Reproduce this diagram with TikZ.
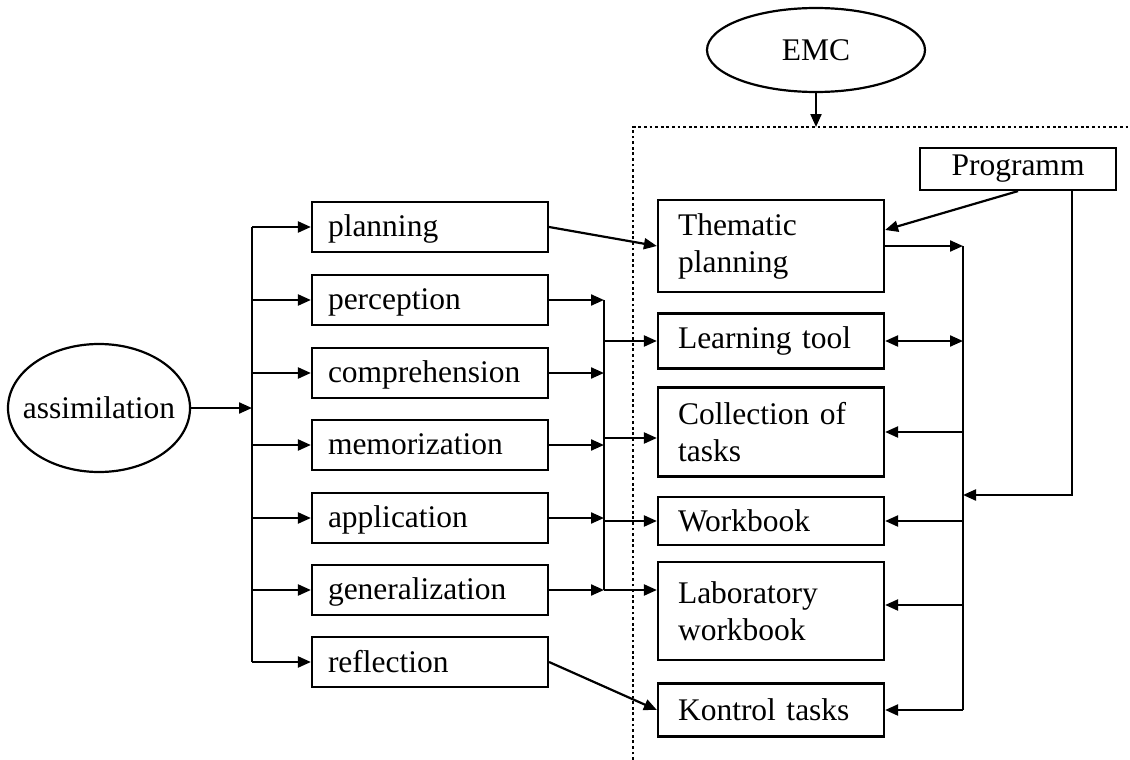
\documentclass[tikz,border=0pt]{standalone}
\usepackage{fontspec}
\setmainfont{Liberation Serif}
\usetikzlibrary{arrows.meta,positioning,calc,shapes.geometric}
\tikzset{box/.style={draw,line width=1.1pt,align=left,text width=102pt,minimum height=25pt,inner xsep=8pt,inner ysep=2pt,text depth=1pt},rbox/.style={draw,line width=1.1pt,align=left,text width=93pt,inner xsep=10pt,inner ysep=2pt},oval/.style={draw,ellipse,line width=1.1pt,inner xsep=-10pt,inner ysep=0pt},arrow/.style={-{Triangle[length=6.5pt,width=5.5pt]},line width=1.1pt},dbl/.style={{Triangle[length=6.5pt,width=5.5pt]}-{Triangle[length=6.5pt,width=5.5pt]},line width=1.1pt},line/.style={line width=1.1pt},dots/.style={line width=1.4pt,dash pattern=on 1.4pt off 1.4pt}}

\begin{document}
\begin{tikzpicture}[x=0.5pt,y=-0.5pt,font=\fontsize{15.75}{18.5}\selectfont]
\useasboundingbox (0,0) rectangle (1130,760);
\node[oval,minimum width=91pt,minimum height=64pt] (assim) at (99,408) {assimilation};
\node[oval,minimum width=109pt,minimum height=42pt] (emc) at (816,50) {EMC};
\node[draw,line width=1.1pt,minimum width=98pt,minimum height=21pt,inner sep=0pt] (prog) at (1018,169) {Programm};
% left column
\node[box] (plan) at (430,227) {planning};
\node[box] (perc) at (430,300) {perception};
\node[box] (comp) at (430,373) {comprehension};
\node[box] (memo) at (430,445) {memorization};
\node[box] (appl) at (430,518) {application};
\node[box] (gene) at (430,590) {generalization};
\node[box] (refl) at (430,662) {reflection};
% right column
\node[rbox,minimum height=46pt] (them) at (771,246) {Thematic\\planning};
\node[rbox,minimum height=27.5pt] (learn) at (771,341) {Learning tool};
\node[rbox,minimum height=44.5pt] (coll) at (771,432) {Collection of\\tasks};
\node[rbox,minimum height=24pt] (wb) at (771,521) {Workbook};
\node[rbox,minimum height=49pt] (lab) at (771,611) {Laboratory\\workbook};
\node[rbox,minimum height=26.5pt] (kont) at (771,710) {Kontrol tasks};
\coordinate (ltrunk) at (252,408);
\coordinate (mid) at (604,300);
\coordinate (mcoll) at (604,438);
\coordinate (rtrunk) at (963,246);
\coordinate (pbend) at (1072,495);
\coordinate (frame) at (633,127);
% EMC frame
\draw[dots] (633,760) -- (frame) -- (1130,127);
\draw[arrow] (emc.south) -- (emc.south |- frame);
% assimilation fan
\draw[arrow] (assim) -- (ltrunk);
\draw[line] (plan.west -| ltrunk) -- (refl.west -| ltrunk);
\draw[arrow] (plan.west -| ltrunk) -- (plan.west); \draw[arrow] (perc.west -| ltrunk) -- (perc.west);
\draw[arrow] (comp.west -| ltrunk) -- (comp.west); \draw[arrow] (memo.west -| ltrunk) -- (memo.west);
\draw[arrow] (appl.west -| ltrunk) -- (appl.west); \draw[arrow] (gene.west -| ltrunk) -- (gene.west);
\draw[arrow] (refl.west -| ltrunk) -- (refl.west);
% middle collector
\draw[arrow] (perc.east) -- (perc.east -| mid); \draw[arrow] (comp.east) -- (comp.east -| mid);
\draw[arrow] (memo.east) -- (memo.east -| mid); \draw[arrow] (appl.east) -- (appl.east -| mid);
\draw[arrow] (gene.east) -- (gene.east -| mid);
\draw[line] (mid) -- (gene.east -| mid);
\draw[arrow] (learn.west -| mid) -- (learn.west);
\draw[arrow] (mcoll) -- (coll.west |- mcoll);
\draw[arrow] (wb.west -| mid) -- (wb.west);
\draw[arrow] (gene.east -| mid) -- (lab.west |- gene.east);
\draw[arrow] (plan.east) -- (them.west);
\draw[arrow] (refl.east) -- (kont.west);
% right collector
\draw[line] (rtrunk) -- (kont.east -| rtrunk);
\draw[arrow] (them.east) -- (rtrunk);
\draw[dbl] (learn.east) -- (learn.east -| rtrunk);
\draw[arrow] (coll.east -| rtrunk) -- (coll.east); \draw[arrow] (wb.east -| rtrunk) -- (wb.east);
\draw[arrow] ([yshift=3pt]lab.east -| rtrunk) -- ([yshift=3pt]lab.east); \draw[arrow] (kont.east -| rtrunk) -- (kont.east);
% Programm
\draw[arrow] (prog.south) -- ($(them.north east)!.33!(them.south east)$);
\draw[arrow] (prog.south -| pbend) -- (pbend) -- (pbend -| rtrunk);
\end{tikzpicture}
\end{document}
